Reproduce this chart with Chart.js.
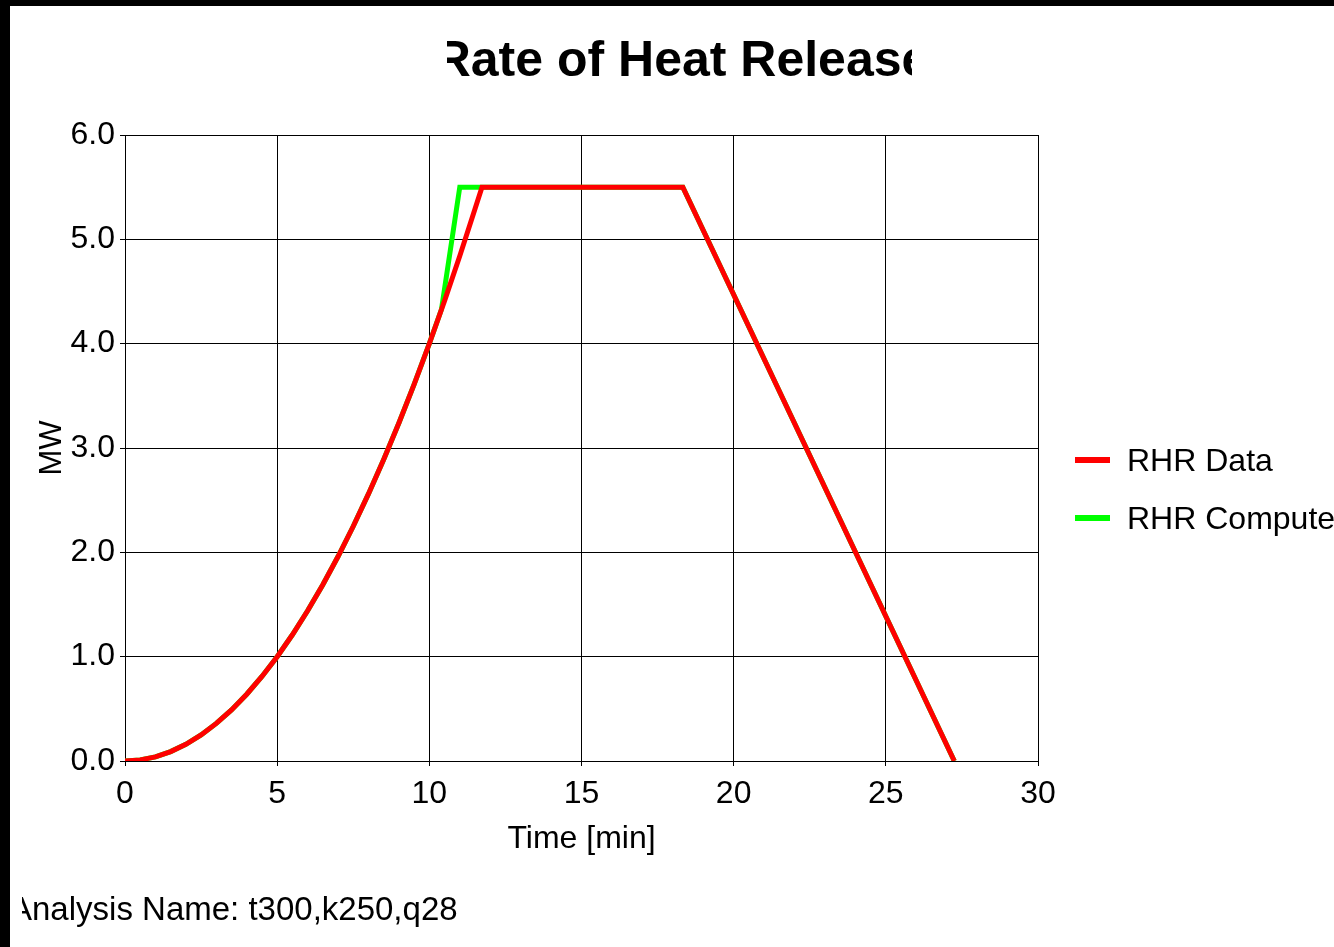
<!DOCTYPE html>
<html>
<head>
<meta charset="utf-8">
<script src="https://cdn.jsdelivr.net/npm/chart.js@4/dist/chart.umd.min.js"></script>
<style>
html,body{margin:0;padding:0;background:#fff;overflow:hidden;}
#wrap{position:absolute;left:0;top:0;width:1334px;height:947px;}
</style>
</head>
<body>
<div id="wrap"><canvas id="c" width="1334" height="947"></canvas></div>
<script>
// ---- data ----
const chartTitle = 'Rate of Heat Release';
const analysisName = 'Analysis Name: t300,k250,q28';
const xTitle = 'Time [min]';
const yTitle = 'MW';
const seriesNames = ['RHR Data', 'RHR Computed'];

const rhrDataTime  = [0, 0.5, 1, 1.5, 2, 2.5, 3, 3.5, 4, 4.5, 5, 5.5, 6, 6.5, 7, 7.5, 8, 8.5, 9, 9.5, 10, 10.5, 11, 11.5, 11.73, 18.33, 27.25];
const rhrDataMW    = [0, 0.01, 0.04, 0.09, 0.16, 0.25, 0.36, 0.49, 0.64, 0.81, 1.00, 1.21, 1.44, 1.69, 1.96, 2.25, 2.56, 2.89, 3.24, 3.61, 4.00, 4.41, 4.84, 5.29, 5.50, 5.50, 0.00];

const rhrCompTime  = [0, 0.5, 1, 1.5, 2, 2.5, 3, 3.5, 4, 4.5, 5, 5.5, 6, 6.5, 7, 7.5, 8, 8.5, 9, 9.5, 10, 10.4, 11.0, 18.33, 27.25];
const rhrCompMW    = [0, 0.01, 0.04, 0.09, 0.16, 0.25, 0.36, 0.49, 0.64, 0.81, 1.00, 1.21, 1.44, 1.69, 1.96, 2.25, 2.56, 2.89, 3.24, 3.61, 4.00, 4.33, 5.50, 5.50, 0.00];

const xMin = 0, xMax = 30, xStep = 5;
const yMin = 0, yMax = 6, yStep = 1;

const colors = ['#ff0000', '#00ff00'];

const toPts = (xs, ys) => xs.map((x, i) => ({x: x, y: ys[i]}));

const FONT = 'Arial, "Liberation Sans", sans-serif';

const decor = {
  id: 'decor',
  beforeDraw(chart) {
    const ctx = chart.ctx;
    ctx.save();
    ctx.fillStyle = '#fff';
    ctx.fillRect(0, 0, chart.width, chart.height);
    ctx.restore();
  },
  afterDraw(chart) {
    const ctx = chart.ctx;
    ctx.save();
    // title (clipped as in the reference)
    ctx.save();
    ctx.beginPath();
    ctx.rect(447, 0, 465, 120);
    ctx.clip();
    ctx.fillStyle = '#000';
    ctx.font = 'bold 50px ' + FONT;
    ctx.textAlign = 'center';
    ctx.textBaseline = 'middle';
    ctx.fillText(chartTitle, 682, 62);
    ctx.restore();

    // legend
    const items = chart.data.datasets;
    ctx.font = '32px ' + FONT;
    ctx.textAlign = 'left';
    ctx.textBaseline = 'middle';
    items.forEach((ds, i) => {
      const y = 460 + i * 58;
      ctx.strokeStyle = ds.borderColor;
      ctx.lineWidth = 6;
      ctx.beginPath();
      ctx.moveTo(1075, y);
      ctx.lineTo(1110, y);
      ctx.stroke();
      ctx.fillStyle = '#000';
      ctx.fillText(ds.label, 1127, y + 2);
    });

    // analysis name (clipped at left)
    ctx.save();
    ctx.beginPath();
    ctx.rect(22, 860, 1300, 87);
    ctx.clip();
    ctx.fillStyle = '#000';
    ctx.font = '33px ' + FONT;
    ctx.textAlign = 'left';
    ctx.textBaseline = 'middle';
    ctx.fillText(analysisName, 10, 911);
    ctx.restore();

    // black frame edges
    ctx.fillStyle = '#000';
    ctx.fillRect(0, 0, chart.width, 6);
    ctx.fillRect(0, 0, 10, chart.height);
    ctx.restore();
  }
};

new Chart(document.getElementById('c'), {
  type: 'line',
  data: {
    datasets: [
      { label: seriesNames[0], data: toPts(rhrDataTime, rhrDataMW), borderColor: colors[0], backgroundColor: colors[0], borderWidth: 5, pointRadius: 0, tension: 0, fill: false },
      { label: seriesNames[1], data: toPts(rhrCompTime, rhrCompMW), borderColor: colors[1], backgroundColor: colors[1], borderWidth: 5, pointRadius: 0, tension: 0, fill: false }
    ]
  },
  options: {
    responsive: false,
    animation: false,
    devicePixelRatio: 1,
    layout: { padding: { left: 0, top: 135, right: 296, bottom: 89 } },
    plugins: { legend: { display: false }, title: { display: false }, tooltip: { enabled: false } },
    scales: {
      x: {
        type: 'linear', min: xMin, max: xMax,
        afterFit(s) { s.height = 97; },
        ticks: { stepSize: xStep, color: '#000', font: { family: FONT, size: 32 }, padding: 9, maxRotation: 0 },
        grid: { color: '#000', lineWidth: 1, tickLength: 5, drawTicks: true },
        border: { color: '#000', width: 1 },
        title: { display: true, text: xTitle, color: '#000', font: { family: FONT, size: 32 }, padding: 0 }
      },
      y: {
        type: 'linear', min: yMin, max: yMax,
        afterFit(s) { s.width = 125; },
        ticks: { stepSize: yStep, color: '#000', font: { family: FONT, size: 32 }, padding: 5, callback: v => Number(v).toFixed(1) },
        grid: { color: '#000', lineWidth: 1, tickLength: 5, drawTicks: true },
        border: { color: '#000', width: 1 },
        title: { display: true, text: yTitle, color: '#000', font: { family: FONT, size: 31 }, padding: { top: 34, bottom: 0 } }
      }
    }
  },
  plugins: [decor]
});
</script>
</body>
</html>
